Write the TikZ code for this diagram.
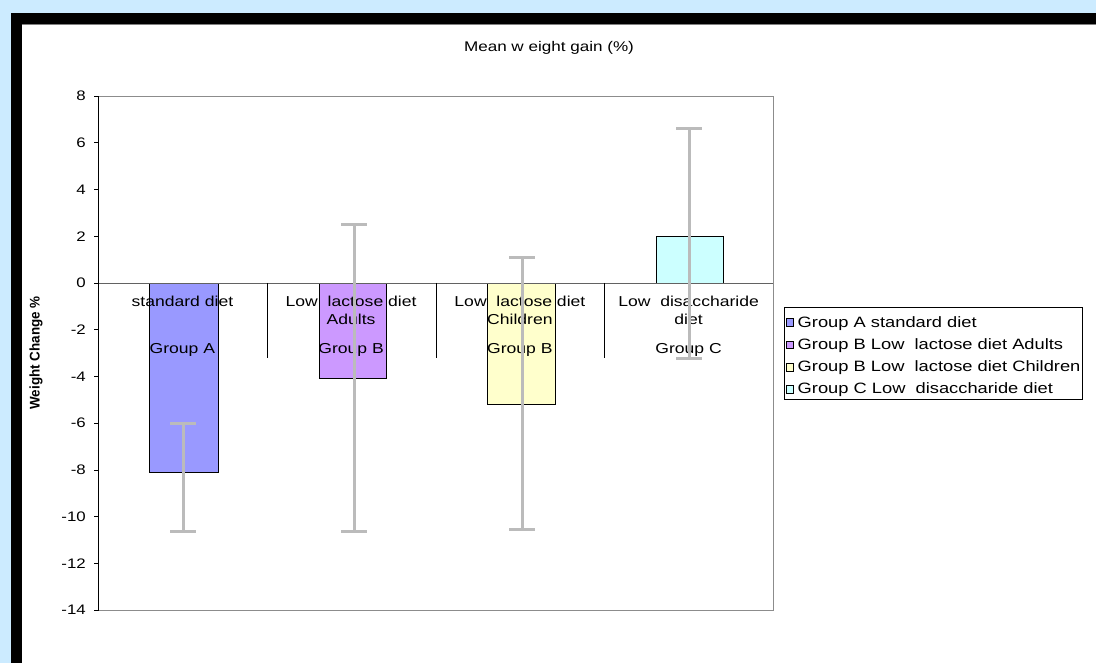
\documentclass[tikz,border=0pt]{standalone}
\usepackage{fontspec}
\setmainfont{Liberation Sans}
\newfontfamily\cf{Liberation Sans}[FakeStretch=1.22]
\newfontfamily\yf{Liberation Sans}[FakeStretch=0.96]
\definecolor{bgblue}{HTML}{CCEBFF}
\definecolor{barA}{HTML}{9999FF}
\definecolor{barB}{HTML}{CC99FF}
\definecolor{barBC}{HTML}{FFFFCC}
\definecolor{barC}{HTML}{CCFFFF}
\definecolor{errgray}{HTML}{BBBBBB}
\definecolor{framegray}{HTML}{8C8C8C}
\tikzset{
  catlabel/.style={inner sep=0pt, anchor=base, font=\cf\fontsize{14.4}{16}\selectfont},
  ticklabel/.style={inner sep=0pt, anchor=east, font=\cf\fontsize{13.8}{15}\selectfont},
  legtext/.style={inner sep=0pt, anchor=base west, font=\cf\fontsize{15}{16}\selectfont},
  bar/.style={draw=black, line width=0.9pt},
  errbar/.style={draw=errgray, line width=3pt},
  legsq/.style={draw=black, line width=0.7pt, minimum size=7.5pt, inner sep=0pt},
}
\begin{document}
\begin{tikzpicture}[x=1pt,y=-1pt]
\useasboundingbox (0,0) rectangle (1096,663);
\clip (0,0) rectangle (1096,663);
% background and frame
\fill[bgblue] (0,0) rectangle (1096,663);
\fill[black] (11,13) rectangle (1120,690);
\fill[white] (21.5,24.5) rectangle (1120,690);
\draw[gray, line width=0.8pt] (21.5,24.6) -- (1120,24.6);
% title
\node[inner sep=0pt, anchor=base, font=\cf\fontsize{14}{15}\selectfont] (title) at (549,51.5) {Mean w eight gain (\%)};
% y axis label
\node[inner sep=0pt, rotate=90, font=\yf\bfseries\fontsize{14}{16}\selectfont] (ylab) at (36,353) {Weight Change \%};
% data scope
\begin{scope}[shift={(0pt,-283pt)}, y=23.364pt]
  % plot frame
  \draw[framegray, line width=0.9pt] (98.5,8) -- (773,8) -- (773,-14) -- (98.5,-14);
  % bars
  \filldraw[bar, fill=barA] (149,0) rectangle (218,-8.1);
  \filldraw[bar, fill=barB] (319,0) rectangle (386,-4.1);
  \filldraw[bar, fill=barBC] (487,0) rectangle (555,-5.2);
  \filldraw[bar, fill=barC] (656,0) rectangle (723,2.0);
  % zero axis and category ticks
  \draw[framegray!70!black, line width=0.9pt] (98.5,0) -- (773,0);
  \foreach \cx in {267.3,436,604.8} \draw[black, line width=0.7pt] (\cx,0) -- (\cx,-3.21);
  % y axis
  \draw[black, line width=1pt] (98.5,8) -- (98.5,-14);
  \foreach \v in {8,6,...,-14} {
    \draw[black, line width=0.7pt] (94,\v) -- (98.5,\v);
  }
  \foreach \v/\nm in {8/t8,6/t6,4/t4,2/t2,0/t0,-2/tm2,-4/tm4,-6/tm6,-8/tm8,-10/tm10,-12/tm12,-14/tm14} {
    \node[ticklabel] (\nm) at (86,\v) {\v};
  }
\end{scope}
% category labels
\node[catlabel] (cA1) at (182.4,307) {standard diet};
\node[catlabel] (cA2) at (182.4,353) {Group A};
\node[catlabel] (cB1) at (351.1,307) {Low\ \ lactose diet};
\node[catlabel] (cB2) at (351.1,324.5) {Adults};
\node[catlabel] (cB3) at (351.1,353) {Group B};
\node[catlabel] (cC1) at (519.9,307) {Low\ \ lactose diet};
\node[catlabel] (cC2) at (519.9,324.5) {Children};
\node[catlabel] (cC3) at (519.9,353) {Group B};
\node[catlabel] (cD1) at (688.6,307) {Low\ \ disaccharide};
\node[catlabel] (cD2) at (688.6,324.5) {diet};
\node[catlabel] (cD3) at (688.6,353) {Group C};
% error bars
\begin{scope}[shift={(0pt,-283pt)}, y=23.364pt]
  \draw[errbar] (183,-6.0) -- (183,-10.65);
  \draw[errbar] (170,-6.0) -- (196,-6.0);
  \draw[errbar] (170,-10.65) -- (196,-10.65);
  \draw[errbar] (354,2.5) -- (354,-10.65);
  \draw[errbar] (341,2.5) -- (367,2.5);
  \draw[errbar] (341,-10.65) -- (367,-10.65);
  \draw[errbar] (522,1.1) -- (522,-10.55);
  \draw[errbar] (509,1.1) -- (535,1.1);
  \draw[errbar] (509,-10.55) -- (535,-10.55);
  \draw[errbar] (689,6.6) -- (689,-3.25);
  \draw[errbar] (676,6.6) -- (702,6.6);
  \draw[errbar] (676,-3.25) -- (702,-3.25);
\end{scope}
% legend
\draw[black, line width=0.8pt] (784,307.5) rectangle (1082,399);
\node[legsq, fill=barA] (sqA) at (790,322.5) {};
\node[legtext] (lA) at (797.5,327) {Group A standard diet};
\node[legsq, fill=barB] (sqB) at (790,344.8) {};
\node[legtext] (lB) at (797.5,349.3) {Group B Low\ \ lactose diet Adults};
\node[legsq, fill=barBC] (sqBC) at (790,367.1) {};
\node[legtext] (lBC) at (797.5,371.6) {Group B Low\ \ lactose diet Children};
\node[legsq, fill=barC] (sqC) at (790,389.4) {};
\node[legtext] (lC) at (797.5,393.9) {Group C Low\ \ disaccharide diet};
\end{tikzpicture}
\end{document}
